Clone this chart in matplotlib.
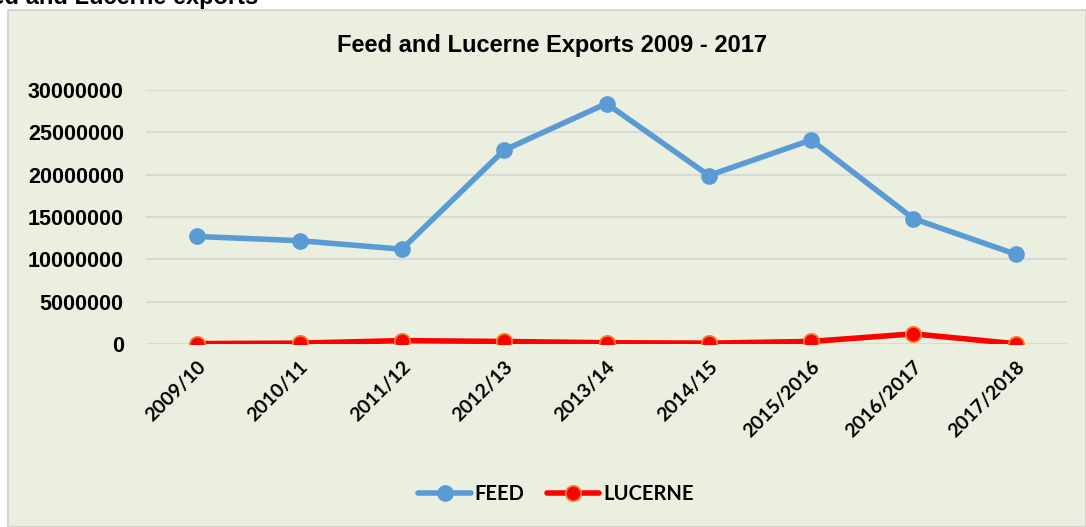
import matplotlib
matplotlib.use("Agg")
import matplotlib.pyplot as plt
from matplotlib.patches import Rectangle

categories = ["2009/10", "2010/11", "2011/12", "2012/13", "2013/14",
              "2014/15", "2015/2016", "2016/2017", "2017/2018"]
feed = [12700000, 12200000, 11200000, 22900000, 28400000,
        19900000, 24100000, 14800000, 10600000]
lucerne = [50000, 100000, 400000, 300000, 150000,
           100000, 300000, 1200000, 30000]
yticks = [0, 5000000, 10000000, 15000000, 20000000, 25000000, 30000000]

W, H = 1086, 527
fig = plt.figure(figsize=(W / 100, H / 100), dpi=100)
fig.patch.set_facecolor("white")

bg = "#EBEFDF"
# chart area
fig.patches.append(Rectangle((8 / W, 0), 1 - 8 / W, (H - 10) / H,
                             transform=fig.transFigure, facecolor=bg,
                             edgecolor="#D0D0D0", linewidth=1.2, zorder=-5))

# cut off heading at top
fig.text(258 / W, 1 - 4 / H, "Feed and Lucerne exports", ha="right", va="baseline",
         fontsize=17, fontweight="bold", family="Liberation Sans")

ax = fig.add_axes([146 / W, (H - 344) / H, (1067 - 146) / W, (344 - 90) / H])
ax.set_facecolor("none")
x = list(range(len(categories)))

ax.plot(x, feed, color="#5B9BD5", linewidth=4, marker="o", markersize=11,
        markerfacecolor="#5B9BD5", markeredgecolor="#5B9BD5", zorder=3,
        solid_capstyle="round", label="FEED")
ax.plot(x, lucerne, color="#FF0000", linewidth=4, marker="o", markersize=11,
        markerfacecolor="#FF0000", markeredgecolor="#F08030", markeredgewidth=1.3,
        zorder=3, solid_capstyle="round", label="LUCERNE")

ax.set_xlim(-0.5, len(categories) - 0.5)
ax.set_ylim(0, 30000000)
ax.set_yticks(yticks)
ax.set_yticklabels([str(v) for v in yticks], fontsize=15.5, fontweight="bold",
                   family="Liberation Sans")
ax.set_xticks(x)
ax.set_xticklabels(categories, rotation=45, ha="right", rotation_mode="anchor",
                   fontsize=14, fontweight="bold", family="Lato")
ax.tick_params(axis="both", length=0)
ax.tick_params(axis="y", pad=16)
ax.tick_params(axis="x", pad=10)
ax.grid(axis="y", color="#D9D9D9", linewidth=1.5)
ax.set_axisbelow(True)
for s in ax.spines.values():
    s.set_visible(False)

fig.text(552 / W, 1 - 45 / H, "Feed and Lucerne Exports 2009 - 2017", ha="center",
         va="center", fontsize=17, fontweight="bold", family="Liberation Sans")

leg = fig.legend(loc="center", bbox_to_anchor=(556 / W, 1 - 494 / H), ncol=2,
                 frameon=False, prop={"family": "Lato", "weight": "bold", "size": 14.5},
                 handlelength=2.6, columnspacing=1.1, handletextpad=0.2)

fig.savefig("out.png", dpi=100)
